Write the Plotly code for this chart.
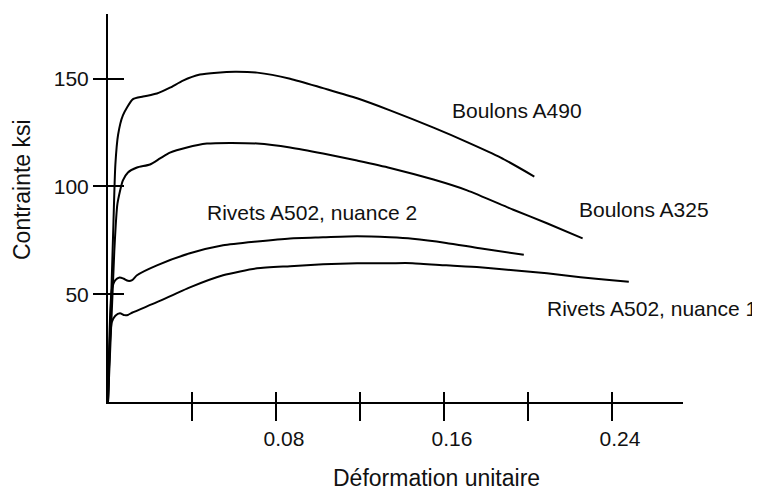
import plotly.graph_objects as go

# Strain (Déformation unitaire) and stress (Contrainte, ksi)
a490_x = [0, 0.0025, 0.0035, 0.0048, 0.0071, 0.0119, 0.0167, 0.0233, 0.0295, 0.0357, 0.0438, 0.0519,
          0.0605, 0.071, 0.0867, 0.1024, 0.1186, 0.1343, 0.155, 0.171, 0.187, 0.203]
a490_y = [0, 80, 110, 124, 133, 140.5, 141.7, 143.1, 145.8, 149.1, 151.9, 152.8,
          153.2, 152.8, 150.0, 145.6, 140.9, 135.3, 127.3, 120.6, 113.4, 104.6]

a325_x = [0, 0.003, 0.0045, 0.0071, 0.0095, 0.0138, 0.02, 0.0248, 0.0295, 0.0376, 0.0471, 0.0581,
          0.071, 0.0867, 0.1024, 0.1186, 0.1343, 0.155, 0.171, 0.193, 0.209, 0.226]
a325_y = [0, 70, 92, 102.8, 106.5, 108.8, 110.2, 113, 115.7, 118.1, 119.9, 120.2,
          119.9, 118.1, 115.3, 112, 108.6, 103.2, 98.2, 89.2, 82.9, 75.9]

r2_x = [0, 0.0018, 0.0035, 0.0055, 0.0075, 0.0095, 0.0115, 0.0138, 0.0233, 0.039, 0.0548, 0.071,
        0.0867, 0.1024, 0.1186, 0.1343, 0.145, 0.161, 0.177, 0.198]
r2_y = [0, 52, 56.5, 57.8, 57.2, 56.2, 56.5, 58.8, 63.4, 69, 72.7, 74.5,
        75.9, 76.4, 76.9, 76.4, 75.7, 73.8, 71.3, 68.3]

r1_x = [0, 0.0018, 0.0035, 0.0057, 0.0078, 0.0095, 0.0114, 0.0233, 0.039, 0.0548, 0.071, 0.0867,
        0.1024, 0.1186, 0.1343, 0.145, 0.161, 0.177, 0.193, 0.209, 0.225, 0.240, 0.248]
r1_y = [0, 37, 40, 41.2, 40.3, 40.4, 41.4, 46.3, 53.2, 58.8, 62, 63,
        63.9, 64.4, 64.4, 64.4, 63.4, 62.5, 61.1, 59.7, 57.9, 56.5, 55.8]

x_ticks = [0.04, 0.08, 0.12, 0.16, 0.20, 0.24]
x_ticktext = ["", "0.08", "", "0.16", "", "0.24"]
y_ticks = [50, 100, 150]
y_ticktext = ["50", "100", "150"]

labels = ["Boulons A490", "Boulons A325", "Rivets A502, nuance 2", "Rivets A502, nuance 1"]
# label anchor positions in pixels of the 760x493 page
label_px = [450, 577, 205, 759]
label_py = [110, 209, 213, 308]
label_anchor = ["left", "left", "left", "right"]

FONT = "Liberation Sans"
X_RANGE = [0, 0.2738]
Y_RANGE = [0, 180]
OFF = 8  # default page margin of the html body
W, H = 760 - OFF, 493 - OFF
L, R, T, B = 108 - OFF, 77, 14 - OFF, 91
PW, PH = W - L - R, H - T - B


def paper_x(px):
    return (px - OFF - L) / PW


def paper_y(py):
    return (H - B - (py - OFF)) / PH


fig = go.Figure()
line = dict(color="black", width=2, shape="spline", smoothing=0.6)
fig.add_trace(go.Scatter(x=a490_x, y=a490_y, mode="lines", line=line, hoverinfo="skip"))
fig.add_trace(go.Scatter(x=a325_x, y=a325_y, mode="lines", line=line, hoverinfo="skip"))
fig.add_trace(go.Scatter(x=r2_x, y=r2_y, mode="lines", line=line, hoverinfo="skip"))
fig.add_trace(go.Scatter(x=r1_x, y=r1_y, mode="lines", line=line, hoverinfo="skip",
                         xaxis="x2", yaxis="y2"))

for t, px, py, anc in zip(labels, label_px, label_py, label_anchor):
    fig.add_annotation(xref="paper", yref="paper", x=paper_x(px), y=paper_y(py),
                       text=t, showarrow=False, xanchor=anc, yanchor="middle",
                       font=dict(family=FONT, size=21, color="#111"))

fig.add_annotation(xref="paper", yref="paper", x=paper_x(436), y=paper_y(478),
                   text="Déformation unitaire", showarrow=False, xanchor="center", yanchor="middle",
                   font=dict(family=FONT, size=23, color="#111"))
fig.add_annotation(xref="paper", yref="paper", x=paper_x(22), y=paper_y(190),
                   text="Contrainte ksi", textangle=-90, showarrow=False, xanchor="center",
                   yanchor="middle", font=dict(family=FONT, size=23, color="#111"))

common = dict(showgrid=False, zeroline=False)
fig.update_layout(
    width=W, height=H,
    margin=dict(l=L, r=R, t=T, b=B),
    paper_bgcolor="white", plot_bgcolor="white",
    showlegend=False,
    font=dict(family=FONT, size=21, color="#111"),
    xaxis=dict(range=X_RANGE, showline=True, linecolor="black", linewidth=2,
               ticks="outside", ticklen=17, tickwidth=1.5, tickcolor="black",
               tickvals=x_ticks, ticktext=x_ticktext, ticklabelshift=8, ticklabelstandoff=0,
               **common),
    yaxis=dict(range=Y_RANGE, showline=True, linecolor="black", linewidth=2,
               ticks="outside", ticklen=13, tickwidth=1.5, tickcolor="black",
               tickvals=y_ticks, ticktext=y_ticktext, ticklabelstandoff=0, **common),
    xaxis2=dict(range=X_RANGE, overlaying="x", anchor="y", side="bottom", showline=False,
                ticks="inside", ticklen=10, tickwidth=1.5, tickcolor="black",
                tickvals=x_ticks, showticklabels=False, **common),
    yaxis2=dict(range=Y_RANGE, overlaying="y", anchor="x", side="left", showline=False,
                ticks="inside", ticklen=16, tickwidth=1.5, tickcolor="black",
                tickvals=y_ticks, showticklabels=False, **common),
)

fig.write_html("out.html")
